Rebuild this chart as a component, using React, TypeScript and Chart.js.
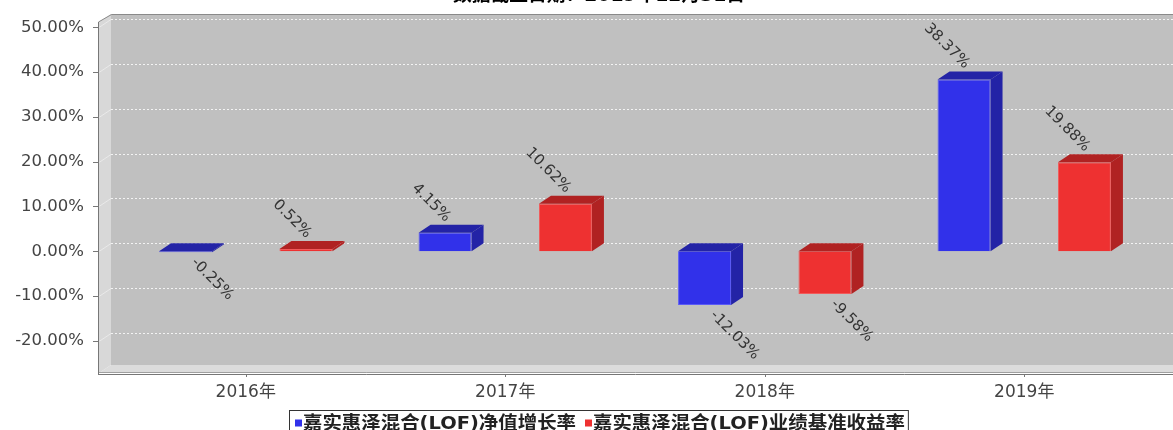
import React, { useEffect, useRef } from "react";
import { Chart, registerables } from "chart.js";

Chart.register(...registerables);

const titleText = "数据截止日期：2019年12月31日";
const categories = ["2016年", "2017年", "2018年", "2019年"];
const seriesNames = ["嘉实惠泽混合(LOF)净值增长率", "嘉实惠泽混合(LOF)业绩基准收益率"];
const navGrowth = [-0.25, 4.15, -12.03, 38.37];
const benchmark = [0.52, 10.62, -9.58, 19.88];
const yTicks = [-20, -10, 0, 10, 20, 30, 40, 50];
const yMin = -27.2;
const yMax = 51.2;

const frontColors = ["#3131ea", "#ee3131"];
const edgeColors = ["#5a5af5", "#f25a5a"];
const darkColors = ["#2323a6", "#b02222"];
const FONT = "'DejaVu Sans', 'Noto Sans CJK SC', sans-serif";
const DX = 12;
const DY = 8;

function poly(ctx: CanvasRenderingContext2D, pts: number[][]) {
  ctx.beginPath();
  ctx.moveTo(pts[0][0], pts[0][1]);
  for (let i = 1; i < pts.length; i++) ctx.lineTo(pts[i][0], pts[i][1]);
  ctx.closePath();
  ctx.fill();
}

const frame3d = {
  id: "frame3d",
  beforeDraw(chart: any) {
    const { ctx, chartArea: ca, scales } = chart;
    const x = scales.x;
    const y = scales.y;
    const W = chart.width;
    const H = chart.height;
    ctx.save();
    ctx.fillStyle = "#ffffff";
    ctx.fillRect(0, 0, W, H);
    const fl = ca.left - 18;
    const bl = fl + 13;
    const top = ca.top;
    const bot = ca.bottom;
    // back wall
    ctx.fillStyle = "#c0c0c0";
    ctx.fillRect(bl, top - DY, W - bl, bot - top);
    // left wall
    ctx.fillStyle = "#d8d8d8";
    poly(ctx, [[fl + 1, top], [bl, top - DY], [bl, bot - DY], [fl + 1, bot]]);
    // floor
    ctx.fillStyle = "#dcdcdc";
    poly(ctx, [[fl + 1, bot], [bl, bot - DY], [W, bot - DY], [W, bot]]);
    // grid lines
    ctx.lineWidth = 1;
    for (const v of yTicks) {
      const py = Math.round(y.getPixelForValue(v)) + 0.5;
      ctx.strokeStyle = "rgba(255,255,255,0.8)";
      ctx.setLineDash([2, 2]);
      ctx.beginPath();
      ctx.moveTo(bl, py - DY);
      ctx.lineTo(W, py - DY);
      ctx.stroke();
      ctx.setLineDash([]);
      ctx.strokeStyle = "rgba(255,255,255,0.45)";
      ctx.beginPath();
      ctx.moveTo(fl + 1, py);
      ctx.lineTo(bl, py - DY);
      ctx.stroke();
    }
    // outline of the 3D box
    ctx.strokeStyle = "#8a8a8a";
    ctx.beginPath();
    ctx.moveTo(fl + 0.5, top);
    ctx.lineTo(bl + 0.5, top - DY + 0.5);
    ctx.lineTo(W, top - DY + 0.5);
    ctx.stroke();
    ctx.strokeStyle = "#a0a0a0";
    ctx.beginPath();
    ctx.moveTo(fl, bot - 0.5);
    ctx.lineTo(W, bot - 0.5);
    ctx.stroke();
    // y axis line and ticks
    ctx.strokeStyle = "#777777";
    ctx.beginPath();
    ctx.moveTo(fl + 0.5, top);
    ctx.lineTo(fl + 0.5, bot + 2);
    ctx.stroke();
    for (const v of yTicks) {
      const py = Math.round(y.getPixelForValue(v)) + 0.5;
      ctx.beginPath();
      ctx.moveTo(fl - 5, py);
      ctx.lineTo(fl, py);
      ctx.stroke();
    }
    // x axis line and ticks
    ctx.beginPath();
    ctx.moveTo(fl, bot + 1.5);
    ctx.lineTo(W, bot + 1.5);
    ctx.stroke();
    for (let i = 0; i < categories.length; i++) {
      const px = Math.round(x.getPixelForValue(i)) + 0.5;
      ctx.beginPath();
      ctx.moveTo(px, bot + 1.5);
      ctx.lineTo(px, bot + 4);
      ctx.stroke();
    }
    // title (cut off by the top edge)
    ctx.fillStyle = "#000000";
    ctx.font = `bold 19px ${FONT}`;
    ctx.textAlign = "left";
    ctx.textBaseline = "alphabetic";
    const tw = ctx.measureText(titleText).width;
    const tsx = 292 / tw;
    ctx.save();
    ctx.translate(599 - 146, 1);
    ctx.scale(tsx, 1);
    ctx.fillText(titleText, 0, 0);
    ctx.restore();
    // legend
    ctx.font = `bold 18px ${FONT}`;
    ctx.textBaseline = "middle";
    const w1 = ctx.measureText(seriesNames[0]).width;
    const lsx = 273 / w1;
    const ly = 423;
    const lx = 289;
    const positions: number[] = [];
    let cur = lx + 6;
    for (let i = 0; i < seriesNames.length; i++) {
      positions.push(cur);
      const w = ctx.measureText(seriesNames[i]).width * lsx;
      cur += 8 + w + 9;
    }
    const boxRight = cur - 9 + 3;
    ctx.strokeStyle = "#333333";
    ctx.lineWidth = 1;
    ctx.strokeRect(lx + 0.5, 410.5, boxRight - lx, 30);
    for (let i = 0; i < seriesNames.length; i++) {
      const sx = positions[i];
      ctx.fillStyle = frontColors[i];
      ctx.fillRect(sx, ly - 3.5, 7, 7);
      ctx.fillStyle = "#222222";
      ctx.save();
      ctx.translate(sx + 8, ly + 1);
      ctx.scale(lsx, 1);
      ctx.fillText(seriesNames[i], 0, 0);
      ctx.restore();
    }
    ctx.restore();
  },
  afterDatasetsDraw(chart: any) {
    const { ctx } = chart;
    ctx.save();
    chart.data.datasets.forEach((ds: any, di: number) => {
      const meta = chart.getDatasetMeta(di);
      meta.data.forEach((el: any, i: number) => {
        const p = el.getProps(["x", "y", "base", "width"], true);
        const x0 = p.x - p.width / 2;
        const x1 = p.x + p.width / 2;
        const yt = Math.min(p.y, p.base);
        const yb = Math.max(p.y, p.base);
        ctx.fillStyle = darkColors[di];
        poly(ctx, [[x0, yt], [x0 + DX, yt - DY], [x1 + DX, yt - DY], [x1, yt]]);
        poly(ctx, [[x1, yt], [x1 + DX, yt - DY], [x1 + DX, yb - DY], [x1, yb]]);
        const v = ds.data[i] as number;
        const label = v.toFixed(2) + "%";
        ctx.fillStyle = "#333333";
        ctx.font = `15px ${FONT}`;
        ctx.textBaseline = "middle";
        ctx.save();
        if (v >= 0) {
          ctx.translate(p.x + 3, yt - 13);
          ctx.rotate(Math.PI / 4);
          ctx.textAlign = "right";
        } else {
          ctx.translate(p.x + 8, yb + 8);
          ctx.rotate(Math.PI / 4);
          ctx.textAlign = "left";
        }
        ctx.fillText(label, 0, 0);
        ctx.restore();
      });
    });
    ctx.restore();
  },
};

export default function App() {
  const ref = useRef<HTMLCanvasElement>(null);
  useEffect(() => {
    if (!ref.current) return;
    Chart.defaults.font.family = FONT;
    const chart = new Chart(ref.current, {
      type: "bar",
      data: {
        labels: categories,
        datasets: [
          {
            label: seriesNames[0],
            data: navGrowth,
            backgroundColor: frontColors[0],
            borderColor: edgeColors[0],
            borderWidth: 1,
            categoryPercentage: 0.928,
            barPercentage: 0.44,
          },
          {
            label: seriesNames[1],
            data: benchmark,
            backgroundColor: frontColors[1],
            borderColor: edgeColors[1],
            borderWidth: 1,
            categoryPercentage: 0.928,
            barPercentage: 0.44,
          },
        ],
      },
      options: {
        animation: false,
        responsive: false,
        layout: { padding: { left: 0, right: 19, top: 22, bottom: 0 } },
        plugins: {
          legend: { display: false },
          title: { display: false },
          tooltip: { enabled: false },
        },
        scales: {
          x: {
            grid: { display: false },
            border: { display: false },
            ticks: { font: { family: FONT, size: 17 }, color: "#444444", padding: 1, maxRotation: 0 },
            afterFit: (s: any) => {
              s.height = 57;
              s.paddingLeft = 0;
              s.paddingRight = 0;
            },
          },
          y: {
            min: yMin,
            max: yMax,
            grid: { display: false },
            border: { display: false },
            afterBuildTicks: (s: any) => {
              s.ticks = yTicks.map((v) => ({ value: v }));
            },
            ticks: {
              font: { family: FONT, size: 16.5 },
              color: "#444444",
              padding: 24,
              callback: (v: any) => Number(v).toFixed(2) + "%",
            },
            afterFit: (s: any) => {
              s.width = 116;
              s.paddingTop = 0;
              s.paddingBottom = 0;
            },
          },
        },
      },
      plugins: [frame3d],
    });
    return () => chart.destroy();
  }, []);
  return (
    <div style={{ position: "fixed", left: 0, top: 0, width: 1173, height: 430, background: "#fff" }}>
      <canvas ref={ref} width={1173} height={430} style={{ width: 1173, height: 430 }} />
    </div>
  );
}
